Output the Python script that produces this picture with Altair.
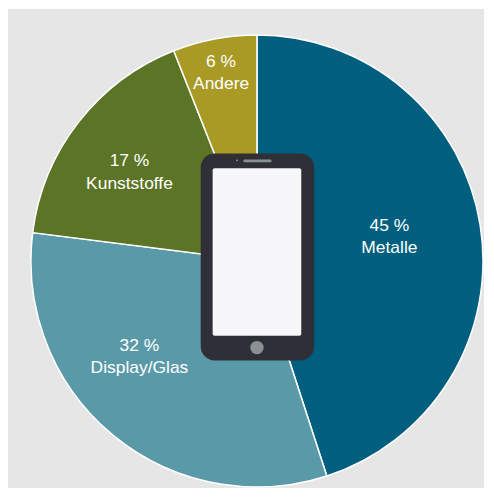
import altair as alt
import pandas as pd

categories = ["Metalle", "Display/Glas", "Kunststoffe", "Andere"]
values = [45, 32, 17, 6]
colors = ["#005F7F", "#5A9AA8", "#5C7425", "#A89A25"]
pct_labels = ["45 %", "32 %", "17 %", "6 %"]

W, H = 478, 481
CX, CY = 250, 253
R = 227


def px(x):
    return alt.value(x - 8)


def py(y):
    return alt.value(y - 8)


df = pd.DataFrame({"cat": categories, "val": values, "ord": range(len(values))})

pie = (
    alt.Chart(df)
    .mark_arc(stroke="white", strokeWidth=1.5, radius=R)
    .encode(
        theta=alt.Theta("val:Q", stack=True, scale=alt.Scale(domain=[0, 100], range=[0, 6.28318530718])),
        order=alt.Order("ord:Q"),
        color=alt.Color("cat:N", scale=alt.Scale(domain=categories, range=colors), legend=None),
        x=alt.value(CX),
        y=alt.value(CY),
    )
)


def label(line1, line2, x, y):
    d = pd.DataFrame({"t": [[line1, line2]]})
    return (
        alt.Chart(d)
        .mark_text(font="Liberation Sans", fontSize=17.5, color="white", lineHeight=22.5, align="center", baseline="middle")
        .encode(text="t:N", x=px(x), y=py(y))
    )


def rect(x, x2, y, y2, color, radius=0):
    d = pd.DataFrame({"a": [0]})
    return (
        alt.Chart(d)
        .mark_rect(color=color, cornerRadius=radius)
        .encode(x=px(x), x2=px(x2), y=py(y), y2=py(y2))
    )


one = pd.DataFrame({"a": [0]})
home = alt.Chart(one).mark_point(filled=True, color="#8A9192", size=180, opacity=1).encode(x=px(258), y=py(348))
dot = alt.Chart(one).mark_point(filled=True, color="#8A9192", size=4, opacity=1).encode(x=px(238), y=py(160))

labels = [
    label(pct_labels[0], categories[0], 391, 226),
    label(pct_labels[1], categories[1], 140, 346),
    label(pct_labels[2], categories[2], 130, 161),
    label(pct_labels[3], categories[3], 222, 61),
]

chart = alt.layer(
    pie,
    *labels,
    rect(201.5, 315.5, 153, 361, "#2E2F37", 14),
    rect(213.5, 302.5, 168, 336, "#F7F7F9", 2),
    rect(244.5, 272.5, 159, 162, "#8A9192", 1),
    dot,
    home,
).properties(
    width=W,
    height=H,
    background="white",
    padding=0,
    view=alt.ViewConfig(fill="#E6E6E6", stroke=None),
)

chart.save("out.html", embed_options={"renderer": "svg", "actions": False})
